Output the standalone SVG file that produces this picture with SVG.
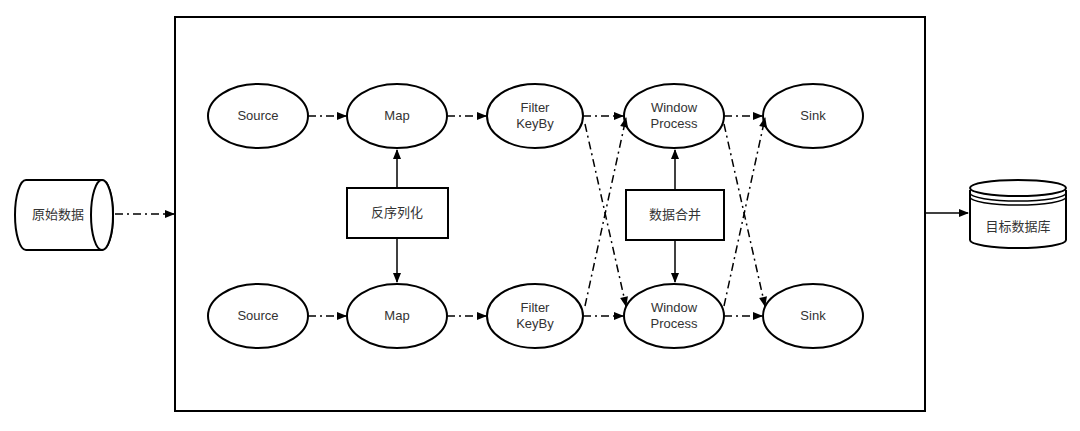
<svg xmlns="http://www.w3.org/2000/svg" width="1080" height="431" viewBox="0 0 1080 431">
<style>
.n{fill:#fff;stroke:#000;stroke-width:2}
.t{font-family:"Liberation Sans","Noto Sans CJK SC",sans-serif;font-size:13px;fill:#333;text-anchor:middle}
.c{fill:none;stroke:#000;stroke-width:1.5}
.d{stroke-dasharray:8 4 2 4}
</style>
<defs><marker id="a" viewBox="0 0 10 10" refX="9" refY="5" markerWidth="11" markerHeight="10" orient="auto" markerUnits="userSpaceOnUse" ><path d="M0,1L10,5L0,9z" fill="#000"/></marker></defs>
<rect x="0" y="0" width="1080" height="431" fill="#fff"/>
<g id="container"><rect x="175" y="17" width="750" height="394" fill="none" stroke="#000" stroke-width="2"/></g>
<g id="src-db"><path class="n" d="M26,180H102A11,35 0 0 1 102,250H26A11,35 0 0 1 26,180z"/><ellipse class="n" cx="102" cy="215" rx="11" ry="35"/><text class="t" x="58" y="219">原始数据</text></g>
<g id="dst-db"><path class="n" d="M970,190V240A48,8 0 0 0 1066,240V190"/><ellipse class="n" cx="1018" cy="188" rx="48" ry="8"/><path class="c" d="M970,193A48,8 0 0 0 1066,193M970,197A48,8 0 0 0 1066,197"/><text class="t" x="1018" y="231">目标数据库</text></g>
<g id="s1"><ellipse class="n" cx="258" cy="116" rx="50" ry="32"/><text class="t" x="258" y="120">Source</text></g>
<g id="m1"><ellipse class="n" cx="397" cy="116" rx="50" ry="32"/><text class="t" x="397" y="120">Map</text></g>
<g id="f1"><ellipse class="n" cx="535" cy="116" rx="48" ry="32"/><text class="t" x="535" y="112">Filter</text><text class="t" x="535" y="128">KeyBy</text></g>
<g id="w1"><ellipse class="n" cx="674" cy="116" rx="50" ry="32"/><text class="t" x="674" y="112">Window</text><text class="t" x="674" y="128">Process</text></g>
<g id="k1"><ellipse class="n" cx="813" cy="116" rx="50" ry="32"/><text class="t" x="813" y="120">Sink</text></g>
<g id="s2"><ellipse class="n" cx="258" cy="316" rx="50" ry="32"/><text class="t" x="258" y="320">Source</text></g>
<g id="m2"><ellipse class="n" cx="397" cy="316" rx="50" ry="32"/><text class="t" x="397" y="320">Map</text></g>
<g id="f2"><ellipse class="n" cx="535" cy="316" rx="48" ry="32"/><text class="t" x="535" y="312">Filter</text><text class="t" x="535" y="328">KeyBy</text></g>
<g id="w2"><ellipse class="n" cx="674" cy="316" rx="50" ry="32"/><text class="t" x="674" y="312">Window</text><text class="t" x="674" y="328">Process</text></g>
<g id="k2"><ellipse class="n" cx="813" cy="316" rx="50" ry="32"/><text class="t" x="813" y="320">Sink</text></g>
<g id="deser"><rect class="n" x="347" y="188" width="101" height="50"/><text class="t" x="397" y="217">反序列化</text></g>
<g id="merge"><rect class="n" x="626" y="190" width="98" height="50"/><text class="t" x="675" y="219">数据合并</text></g>
<g id="connectors">
<path class="c d" marker-end="url(#a)" d="M115,214H174"/>
<path class="c" marker-end="url(#a)" d="M925,213H968"/>
<path class="c d" marker-end="url(#a)" d="M308,116H346"/>
<path class="c d" marker-end="url(#a)" d="M447,116H486"/>
<path class="c d" marker-end="url(#a)" d="M583,116H623"/>
<path class="c d" marker-end="url(#a)" d="M724,116H762"/>
<path class="c d" marker-end="url(#a)" d="M308,316H346"/>
<path class="c d" marker-end="url(#a)" d="M447,316H486"/>
<path class="c d" marker-end="url(#a)" d="M583,316H623"/>
<path class="c d" marker-end="url(#a)" d="M724,316H762"/>
<path class="c" marker-end="url(#a)" d="M397,188V150"/>
<path class="c" marker-end="url(#a)" d="M397,238V282"/>
<path class="c" marker-end="url(#a)" d="M675,190V150"/>
<path class="c" marker-end="url(#a)" d="M675,240V282"/>
<path class="c d" marker-end="url(#a)" d="M585,124L626,306"/>
<path class="c d" marker-end="url(#a)" d="M585,306L626,118"/>
<path class="c d" marker-end="url(#a)" d="M724,124L765,306"/>
<path class="c d" marker-end="url(#a)" d="M724,306L765,118"/>
</g>
</svg>
